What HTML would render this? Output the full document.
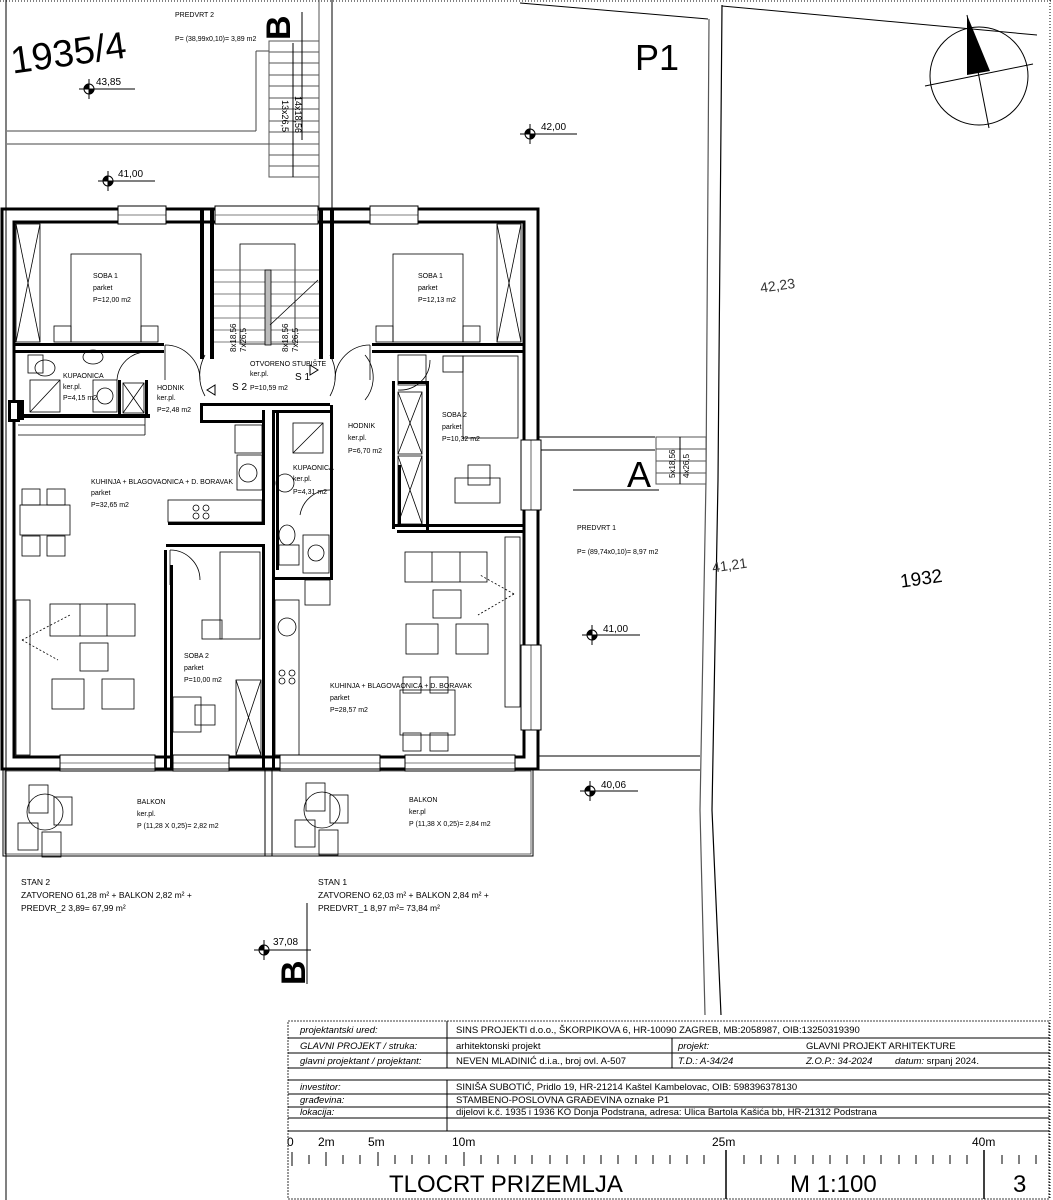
<!DOCTYPE html>
<html><head><meta charset="utf-8"><style>
html,body{margin:0;padding:0;background:#fff;}
svg{display:block;font-family:"Liberation Sans",sans-serif;}
.s{font-size:7px;}
</style></head><body>
<svg width="1053" height="1200" viewBox="0 0 1053 1200" xmlns="http://www.w3.org/2000/svg">
<line x1="0" y1="1" x2="1053" y2="1" stroke="#000" stroke-dasharray="1,2" stroke-width="1"/>
<line x1="1050" y1="0" x2="1050" y2="1200" stroke="#000" stroke-dasharray="1,2" stroke-width="1"/>
<line x1="6" y1="0" x2="6" y2="1200" stroke="#000" stroke-width="1"/>
<line x1="319" y1="0" x2="319" y2="208" stroke="#555" stroke-width="1"/>
<line x1="332" y1="0" x2="332" y2="208" stroke="#000" stroke-width="1"/>
<polyline points="520,3 708,19" fill="none" stroke="#000" stroke-width="1"/>
<polyline points="722,6 1037,35" fill="none" stroke="#000" stroke-width="1"/>
<polyline points="709,19 706,480 700,810 705,1015" fill="none" stroke="#555" stroke-width="1.2"/>
<polyline points="722,5 718,480 712,810 721,1015" fill="none" stroke="#000" stroke-width="1.2"/>
<line x1="7" y1="131" x2="256" y2="131" stroke="#444"/>
<line x1="256" y1="51" x2="256" y2="131" stroke="#444"/>
<line x1="256" y1="51" x2="269" y2="51" stroke="#444"/>
<line x1="7" y1="144" x2="308" y2="144" stroke="#444"/>
<rect x="269" y="41" width="50" height="136" fill="none" stroke="#555"/>
<g stroke="#555"><line x1="269" y1="52" x2="319" y2="52"/><line x1="269" y1="63" x2="319" y2="63"/><line x1="269" y1="75" x2="319" y2="75"/><line x1="269" y1="86" x2="319" y2="86"/><line x1="269" y1="98" x2="319" y2="98"/><line x1="269" y1="109" x2="319" y2="109"/><line x1="269" y1="121" x2="319" y2="121"/><line x1="269" y1="132" x2="319" y2="132"/><line x1="269" y1="144" x2="319" y2="144"/><line x1="269" y1="155" x2="319" y2="155"/><line x1="269" y1="166" x2="319" y2="166"/></g>
<line x1="293" y1="43" x2="293" y2="177" stroke="#000"/>
<line x1="302" y1="12" x2="302" y2="140" stroke="#000"/>
<text transform="translate(282,100) rotate(90)" font-size="9">13x26,5</text>
<text transform="translate(295,96) rotate(90)" font-size="9">14x18,56</text>
<text x="10" y="64" font-size="38" transform="rotate(-8 80 50)">1935/4</text>
<text x="175" y="17" class="s">PREDVRT 2</text>
<text x="175" y="41" class="s">P= (38,99x0,10)= 3,89 m2</text>
<text transform="translate(290,40) rotate(-90)" font-size="34" font-weight="bold">B</text>
<g stroke="#000">
<circle cx="89" cy="89" r="5" fill="#fff"/><path d="M89,89 L94,89 A5,5 0 0 1 89,94 Z M89,89 L84,89 A5,5 0 0 1 89,84Z" fill="#000"/><line x1="89" y1="79" x2="89" y2="99"/><line x1="79" y1="89" x2="135" y2="89"/>
<circle cx="108" cy="181" r="5" fill="#fff"/><path d="M108,181 L113,181 A5,5 0 0 1 108,186 Z M108,181 L103,181 A5,5 0 0 1 108,176Z" fill="#000"/><line x1="108" y1="171" x2="108" y2="191"/><line x1="98" y1="181" x2="155" y2="181"/>
<circle cx="530" cy="134" r="5" fill="#fff"/><path d="M530,134 L535,134 A5,5 0 0 1 530,139 Z M530,134 L525,134 A5,5 0 0 1 530,129Z" fill="#000"/><line x1="530" y1="124" x2="530" y2="144"/><line x1="520" y1="134" x2="577" y2="134"/>
<circle cx="592" cy="635" r="5" fill="#fff"/><path d="M592,635 L597,635 A5,5 0 0 1 592,640 Z M592,635 L587,635 A5,5 0 0 1 592,630Z" fill="#000"/><line x1="592" y1="625" x2="592" y2="645"/><line x1="582" y1="635" x2="640" y2="635"/>
<circle cx="590" cy="791" r="5" fill="#fff"/><path d="M590,791 L595,791 A5,5 0 0 1 590,796 Z M590,791 L585,791 A5,5 0 0 1 590,786Z" fill="#000"/><line x1="590" y1="781" x2="590" y2="801"/><line x1="580" y1="791" x2="638" y2="791"/>
<circle cx="264" cy="950" r="5" fill="#fff"/><path d="M264,950 L269,950 A5,5 0 0 1 264,955 Z M264,950 L259,950 A5,5 0 0 1 264,945Z" fill="#000"/><line x1="264" y1="940" x2="264" y2="960"/><line x1="254" y1="950" x2="311" y2="950"/>
</g>
<text x="96" y="85" font-size="10">43,85</text>
<text x="118" y="177" font-size="10">41,00</text>
<text x="541" y="130" font-size="10">42,00</text>
<text x="603" y="632" font-size="10">41,00</text>
<text x="601" y="788" font-size="10">40,06</text>
<text x="273" y="945" font-size="10">37,08</text>
<line x1="307" y1="903" x2="307" y2="984" stroke="#000"/>
<text transform="translate(305,985) rotate(-90)" font-size="34" font-weight="bold">B</text>
<text x="635" y="70" font-size="36">P1</text>
<text x="760" y="290" font-size="14" fill="#333" transform="rotate(-8 780 285)">42,23</text>
<text x="712" y="570" font-size="14" fill="#333" transform="rotate(-8 730 565)">41,21</text>
<text x="900" y="585" font-size="19" transform="rotate(-8 920 578)">1932</text>
<circle cx="979" cy="76" r="49" fill="none" stroke="#000"/>
<line x1="925" y1="86" x2="1033" y2="64" stroke="#000"/>
<line x1="967" y1="15" x2="989" y2="128" stroke="#000"/>
<polygon points="967,15 967,75 990,71" fill="#000"/>
<line x1="538" y1="437" x2="655" y2="437" stroke="#000"/>
<line x1="538" y1="450" x2="655" y2="450" stroke="#000"/>
<rect x="656" y="437" width="50" height="47" fill="none" stroke="#555"/>
<g stroke="#555"><line x1="656" y1="449" x2="706" y2="449"/><line x1="656" y1="461" x2="706" y2="461"/><line x1="656" y1="473" x2="706" y2="473"/></g>
<line x1="680" y1="437" x2="680" y2="484" stroke="#000"/>
<text transform="translate(675,478) rotate(-90)" font-size="8">5x18,56</text>
<text transform="translate(689,478) rotate(-90)" font-size="8">4x26,5</text>
<text x="627" y="487" font-size="36">A</text>
<line x1="573" y1="490" x2="659" y2="490" stroke="#000"/>
<text x="577" y="530" class="s">PREDVRT 1</text>
<text x="577" y="554" class="s">P= (89,74x0,10)= 8,97 m2</text>
<line x1="538" y1="756" x2="700" y2="756" stroke="#000"/>
<line x1="538" y1="770" x2="700" y2="770" stroke="#000"/>

<g fill="none" stroke="#000">
<rect x="2" y="209" width="536" height="560" stroke-width="3"/>
<rect x="14" y="222" width="510" height="535" stroke-width="3"/>
</g>
<g fill="#fff" stroke="#000" stroke-width="1">
<rect x="118" y="206" width="48" height="18"/><rect x="215" y="206" width="103" height="18"/><rect x="370" y="206" width="48" height="18"/>
<rect x="521" y="440" width="20" height="70"/><rect x="521" y="645" width="20" height="85"/>
<rect x="60" y="755" width="95" height="16"/><rect x="173" y="755" width="56" height="16"/><rect x="280" y="755" width="100" height="16"/><rect x="405" y="755" width="110" height="16"/>
</g>
<g stroke="#000" stroke-width="0.6">
<line x1="118" y1="215" x2="166" y2="215"/><line x1="215" y1="215" x2="318" y2="215"/><line x1="370" y1="215" x2="418" y2="215"/>
<line x1="531" y1="440" x2="531" y2="510"/><line x1="531" y1="645" x2="531" y2="730"/>
<line x1="60" y1="763" x2="155" y2="763"/><line x1="173" y1="763" x2="229" y2="763"/><line x1="280" y1="763" x2="380" y2="763"/><line x1="405" y1="763" x2="515" y2="763"/>
</g>
<g fill="#000">
<rect x="200" y="209" width="4" height="150"/><rect x="210" y="209" width="4" height="150"/>
<rect x="319" y="209" width="4" height="150"/><rect x="330" y="209" width="4" height="150"/>
<rect x="14" y="343" width="150" height="3"/><rect x="14" y="350" width="150" height="3"/>
<rect x="372" y="343" width="152" height="3"/><rect x="372" y="350" width="152" height="3"/>
<rect x="14" y="414" width="136" height="4"/><rect x="14" y="400" width="10" height="20"/>
<rect x="118" y="380" width="3" height="36"/><rect x="145" y="380" width="3" height="36"/>
<rect x="200" y="403" width="130" height="3"/><rect x="200" y="403" width="3" height="20"/><rect x="200" y="420" width="65" height="3"/>
<rect x="262" y="410" width="3" height="115"/><rect x="272" y="410" width="3" height="165"/><rect x="276" y="410" width="3" height="160"/>
<rect x="330" y="405" width="3" height="175"/><rect x="272" y="410" width="60" height="3"/>
<rect x="168" y="522" width="96" height="3"/><rect x="166" y="544" width="98" height="3"/>
<rect x="164" y="550" width="3" height="218"/><rect x="170" y="565" width="3" height="203"/>
<rect x="262" y="544" width="3" height="224"/><rect x="272" y="575" width="3" height="193"/>
<rect x="272" y="577" width="60" height="3"/>
<rect x="392" y="381" width="3" height="148"/><rect x="398" y="381" width="28" height="3"/><rect x="426" y="381" width="3" height="149"/>
<rect x="392" y="524" width="132" height="3"/><rect x="397" y="530" width="127" height="3"/>
<rect x="398" y="465" width="3" height="60"/>
<rect x="8" y="400" width="12" height="22"/>
</g>
<rect x="11" y="403" width="6" height="16" fill="#fff"/>
<g fill="none" stroke="#000" stroke-width="0.8">
<rect x="16" y="224" width="24" height="118"/><line x1="16" y1="224" x2="40" y2="342"/><line x1="40" y1="224" x2="16" y2="342"/>
<rect x="497" y="224" width="24" height="118"/><line x1="497" y1="224" x2="521" y2="342"/><line x1="521" y1="224" x2="497" y2="342"/>
<rect x="71" y="254" width="70" height="88"/><rect x="54" y="326" width="17" height="16"/><rect x="141" y="326" width="17" height="16"/>
<rect x="393" y="254" width="70" height="88"/><rect x="376" y="326" width="17" height="16"/><rect x="463" y="326" width="17" height="16"/>
<path d="M165,345 A35,35 0 0 1 200,380"/><line x1="165" y1="345" x2="165" y2="380"/>
<path d="M370,345 A35,35 0 0 0 335,380"/><line x1="370" y1="345" x2="370" y2="380"/>
<rect x="240" y="244" width="55" height="100"/>
<g stroke="#555"><line x1="214" y1="270" x2="319" y2="270"/><line x1="214" y1="282" x2="319" y2="282"/><line x1="214" y1="294" x2="319" y2="294"/><line x1="214" y1="306" x2="319" y2="306"/><line x1="214" y1="318" x2="319" y2="318"/><line x1="214" y1="330" x2="319" y2="330"/><line x1="214" y1="342" x2="319" y2="342"/></g>
<rect x="265" y="270" width="6" height="75" fill="#bbb"/>
<line x1="270" y1="325" x2="318" y2="280"/>
<path d="M205,355 A42,42 0 0 0 205,396"/><path d="M330,355 A42,42 0 0 1 330,396"/>
<path d="M365,355 A35,35 0 0 1 365,400"/>
<rect x="28" y="355" width="15" height="18"/><ellipse cx="45" cy="368" rx="10" ry="8"/><ellipse cx="93" cy="357" rx="10" ry="7"/>
<rect x="30" y="380" width="30" height="32"/><line x1="30" y1="412" x2="60" y2="380"/>
<rect x="93" y="380" width="24" height="32"/><circle cx="105" cy="396" r="8"/>
<rect x="123" y="383" width="21" height="30"/><line x1="123" y1="383" x2="144" y2="413"/><line x1="144" y1="383" x2="123" y2="413"/>
<path d="M145,352 A30,30 0 0 0 117,380"/>
<line x1="18" y1="425" x2="145" y2="425"/><line x1="145" y1="418" x2="145" y2="435"/><line x1="18" y1="435" x2="145" y2="435"/>
<rect x="235" y="425" width="27" height="28"/><rect x="237" y="455" width="25" height="35"/><circle cx="248" cy="473" r="9"/>
<rect x="168" y="500" width="94" height="22"/><circle cx="196" cy="508" r="3"/><circle cx="206" cy="508" r="3"/><circle cx="196" cy="516" r="3"/><circle cx="206" cy="516" r="3"/>
<rect x="20" y="505" width="50" height="30"/><rect x="22" y="489" width="18" height="16"/><rect x="47" y="489" width="18" height="16"/><rect x="22" y="536" width="18" height="20"/><rect x="47" y="536" width="18" height="20"/>
<rect x="16" y="600" width="14" height="155"/>
<rect x="50" y="604" width="85" height="32"/><line x1="80" y1="604" x2="80" y2="636"/><line x1="107" y1="604" x2="107" y2="636"/>
<rect x="80" y="643" width="28" height="28"/><rect x="52" y="679" width="32" height="30"/><rect x="102" y="679" width="32" height="30"/>
<line x1="22" y1="640" x2="70" y2="615" stroke-dasharray="2,2"/><line x1="22" y1="640" x2="58" y2="660" stroke-dasharray="2,2"/>
<path d="M170,550 A30,30 0 0 1 200,580"/><line x1="170" y1="550" x2="170" y2="585"/>
<rect x="220" y="552" width="40" height="87"/><rect x="202" y="620" width="20" height="19"/>
<rect x="236" y="680" width="25" height="75"/><line x1="236" y1="680" x2="261" y2="755"/><line x1="261" y1="680" x2="236" y2="755"/>
<rect x="173" y="697" width="28" height="35"/><rect x="195" y="705" width="20" height="20"/>
<rect x="293" y="423" width="30" height="30"/><line x1="293" y1="453" x2="323" y2="423"/>
<circle cx="285" cy="483" r="9"/><path d="M330,490 A30,30 0 0 0 300,515"/>
<ellipse cx="287" cy="535" rx="8" ry="10"/><rect x="279" y="545" width="20" height="20"/><rect x="303" y="535" width="26" height="38"/><circle cx="316" cy="553" r="8"/>
<rect x="305" y="580" width="25" height="25"/>
<rect x="275" y="600" width="24" height="155"/><circle cx="287" cy="627" r="9"/><circle cx="282" cy="673" r="3"/><circle cx="292" cy="673" r="3"/><circle cx="282" cy="681" r="3"/><circle cx="292" cy="681" r="3"/>
<rect x="398" y="355" width="28" height="30"/><path d="M398,390 A30,30 0 0 0 430,360"/>
<rect x="398" y="392" width="24" height="62"/><line x1="398" y1="392" x2="422" y2="454"/><line x1="422" y1="392" x2="398" y2="454"/>
<rect x="398" y="456" width="24" height="68"/><line x1="398" y1="456" x2="422" y2="524"/><line x1="422" y1="456" x2="398" y2="524"/>
<rect x="463" y="356" width="55" height="82"/><rect x="443" y="356" width="20" height="16"/>
<rect x="455" y="478" width="45" height="25"/><rect x="468" y="465" width="22" height="20"/>
<rect x="405" y="552" width="82" height="30"/><line x1="432" y1="552" x2="432" y2="582"/><line x1="460" y1="552" x2="460" y2="582"/>
<rect x="505" y="537" width="15" height="170"/><rect x="433" y="590" width="28" height="28"/><rect x="406" y="624" width="32" height="30"/><rect x="456" y="624" width="32" height="30"/>
<line x1="514" y1="594" x2="480" y2="575" stroke-dasharray="2,2"/><line x1="514" y1="594" x2="478" y2="615" stroke-dasharray="2,2"/>
<rect x="400" y="690" width="55" height="45"/><rect x="403" y="677" width="18" height="16"/><rect x="430" y="677" width="18" height="16"/><rect x="403" y="733" width="18" height="18"/><rect x="430" y="733" width="18" height="18"/>
</g>
<g class="s">
<text x="93" y="278">SOBA 1</text><text x="93" y="290">parket</text><text x="93" y="302">P=12,00 m2</text>
<text x="418" y="278">SOBA 1</text><text x="418" y="290">parket</text><text x="418" y="302">P=12,13 m2</text>
<text x="63" y="378">KUPAONICA</text><text x="63" y="389">ker.pl.</text><text x="63" y="400">P=4,15 m2</text>
<text x="157" y="390">HODNIK</text><text x="157" y="400">ker.pl.</text><text x="157" y="412">P=2,48 m2</text>
<text x="250" y="366">OTVORENO STUBIŠTE</text><text x="250" y="376">ker.pl.</text>
<text x="232" y="390" font-size="10">S 2</text><text x="250" y="390">P=10,59 m2</text><text x="295" y="380" font-size="10">S 1</text>
<text x="348" y="428">HODNIK</text><text x="348" y="440">ker.pl.</text><text x="348" y="453">P=6,70 m2</text>
<text x="442" y="417">SOBA 2</text><text x="442" y="429">parket</text><text x="442" y="441">P=10,32 m2</text>
<text x="293" y="470">KUPAONICA</text><text x="293" y="481">ker.pl.</text><text x="293" y="494">P=4,31 m2</text>
<text x="91" y="484">KUHINJA + BLAGOVAONICA + D. BORAVAK</text><text x="91" y="495">parket</text><text x="91" y="507">P=32,65 m2</text>
<text x="184" y="658">SOBA 2</text><text x="184" y="670">parket</text><text x="184" y="682">P=10,00 m2</text>
<text x="330" y="688">KUHINJA + BLAGOVAONICA + D. BORAVAK</text><text x="330" y="700">parket</text><text x="330" y="712">P=28,57 m2</text>
</g>
<polygon points="207,390 215,385 215,395" fill="none" stroke="#000"/>
<polygon points="318,370 310,365 310,375" fill="none" stroke="#000"/>
<text transform="translate(236,352) rotate(-90)" font-size="8">8x18,56</text>
<text transform="translate(246,352) rotate(-90)" font-size="8">7x26,5</text>
<text transform="translate(288,352) rotate(-90)" font-size="8">8x18,56</text>
<text transform="translate(298,352) rotate(-90)" font-size="8">7x26,5</text>
<rect x="3" y="769" width="530" height="87" fill="none" stroke="#000"/>
<rect x="5" y="771" width="526" height="83" fill="none" stroke="#000" stroke-width="0.6"/>
<line x1="265" y1="769" x2="265" y2="856" stroke="#000"/><line x1="272" y1="769" x2="272" y2="856" stroke="#000"/>
<g fill="none" stroke="#000" stroke-width="0.8">
<circle cx="45" cy="812" r="18"/><rect x="29" y="785" width="19" height="28"/><rect x="54" y="797" width="18" height="28"/><rect x="18" y="823" width="20" height="27"/><rect x="42" y="832" width="19" height="25"/>
<circle cx="322" cy="810" r="18"/><rect x="306" y="783" width="19" height="28"/><rect x="330" y="795" width="18" height="28"/><rect x="295" y="820" width="20" height="27"/><rect x="319" y="830" width="19" height="25"/>
</g>
<g class="s">
<text x="137" y="804">BALKON</text><text x="137" y="816">ker.pl.</text><text x="137" y="828">P (11,28 X 0,25)= 2,82 m2</text>
<text x="409" y="802">BALKON</text><text x="409" y="814">ker.pl</text><text x="409" y="826">P (11,38 X 0,25)= 2,84 m2</text>
</g>
<g font-size="8.5">
<text x="21" y="885">STAN 2</text><text x="21" y="898">ZATVORENO 61,28 m² + BALKON 2,82 m² +</text><text x="21" y="911">PREDVR_2  3,89=  67,99 m²</text>
<text x="318" y="885">STAN 1</text><text x="318" y="898">ZATVORENO 62,03 m² + BALKON 2,84 m² +</text><text x="318" y="911">PREDVRT_1  8,97 m²=  73,84 m²</text>
</g>
<g fill="none" stroke="#000">
<rect x="288" y="1021" width="761" height="178" stroke-dasharray="2,1" stroke-width="0.8"/>
<line x1="288" y1="1038" x2="1049" y2="1038"/><line x1="288" y1="1053" x2="1049" y2="1053"/><line x1="288" y1="1068" x2="1049" y2="1068"/>
<line x1="288" y1="1080" x2="1049" y2="1080"/><line x1="288" y1="1094" x2="1049" y2="1094"/><line x1="288" y1="1107" x2="1049" y2="1107"/>
<line x1="288" y1="1118" x2="1049" y2="1118"/><line x1="288" y1="1131" x2="1049" y2="1131"/>
<line x1="447" y1="1021" x2="447" y2="1068"/><line x1="447" y1="1080" x2="447" y2="1131"/>
<line x1="672" y1="1038" x2="672" y2="1068"/>
<line x1="726" y1="1150" x2="726" y2="1199" stroke-width="1.5"/><line x1="984" y1="1150" x2="984" y2="1199" stroke-width="1.5"/>
</g>
<g font-size="9.5">
<text x="300" y="1033" font-style="italic">projektantski ured:</text><text x="456" y="1033">SINS PROJEKTI d.o.o., ŠKORPIKOVA 6, HR-10090 ZAGREB, MB:2058987, OIB:13250319390</text>
<text x="300" y="1049" font-style="italic">GLAVNI PROJEKT / struka:</text><text x="456" y="1049">arhitektonski projekt</text><text x="678" y="1049" font-style="italic">projekt:</text><text x="806" y="1049">GLAVNI PROJEKT ARHITEKTURE</text>
<text x="300" y="1064" font-style="italic">glavni projektant / projektant:</text><text x="456" y="1064">NEVEN MLADINIĆ d.i.a., broj ovl. A-507</text><text x="678" y="1064" font-style="italic">T.D.: A-34/24</text><text x="806" y="1064" font-style="italic">Z.O.P.: 34-2024</text><text x="895" y="1064"><tspan font-style="italic">datum:</tspan> srpanj 2024.</text>
<text x="300" y="1090" font-style="italic">investitor:</text><text x="456" y="1090">SINIŠA SUBOTIĆ, Pridlo 19, HR-21214 Kaštel Kambelovac, OIB: 598396378130</text>
<text x="300" y="1103" font-style="italic">građevina:</text><text x="456" y="1103">STAMBENO-POSLOVNA GRAĐEVINA  oznake P1</text>
<text x="300" y="1115" font-style="italic">lokacija:</text><text x="456" y="1115">dijelovi k.č. 1935 i 1936 KO Donja Podstrana, adresa:  Ulica Bartola Kašića bb, HR-21312 Podstrana</text>
</g>
<g font-size="12"><text x="287" y="1146">0</text><text x="318" y="1146">2m</text><text x="368" y="1146">5m</text><text x="452" y="1146">10m</text><text x="712" y="1146">25m</text><text x="972" y="1146">40m</text></g>
<g stroke="#000">
<line x1="292" y1="1152" x2="292" y2="1166"/><line x1="309" y1="1155" x2="309" y2="1164"/><line x1="326" y1="1152" x2="326" y2="1166"/><line x1="343" y1="1155" x2="343" y2="1164"/><line x1="360" y1="1155" x2="360" y2="1164"/><line x1="378" y1="1152" x2="378" y2="1166"/><line x1="395" y1="1155" x2="395" y2="1164"/><line x1="412" y1="1155" x2="412" y2="1164"/><line x1="429" y1="1155" x2="429" y2="1164"/><line x1="446" y1="1155" x2="446" y2="1164"/><line x1="464" y1="1152" x2="464" y2="1166"/><line x1="481" y1="1155" x2="481" y2="1164"/><line x1="498" y1="1155" x2="498" y2="1164"/><line x1="515" y1="1155" x2="515" y2="1164"/><line x1="532" y1="1155" x2="532" y2="1164"/><line x1="550" y1="1155" x2="550" y2="1164"/><line x1="567" y1="1155" x2="567" y2="1164"/><line x1="584" y1="1155" x2="584" y2="1164"/><line x1="601" y1="1155" x2="601" y2="1164"/><line x1="618" y1="1155" x2="618" y2="1164"/><line x1="636" y1="1155" x2="636" y2="1164"/><line x1="653" y1="1155" x2="653" y2="1164"/><line x1="670" y1="1155" x2="670" y2="1164"/><line x1="687" y1="1155" x2="687" y2="1164"/><line x1="704" y1="1155" x2="704" y2="1164"/><line x1="744" y1="1155" x2="744" y2="1164"/><line x1="761" y1="1155" x2="761" y2="1164"/><line x1="778" y1="1155" x2="778" y2="1164"/><line x1="795" y1="1155" x2="795" y2="1164"/><line x1="813" y1="1155" x2="813" y2="1164"/><line x1="830" y1="1155" x2="830" y2="1164"/><line x1="847" y1="1155" x2="847" y2="1164"/><line x1="864" y1="1155" x2="864" y2="1164"/><line x1="881" y1="1155" x2="881" y2="1164"/><line x1="899" y1="1155" x2="899" y2="1164"/><line x1="916" y1="1155" x2="916" y2="1164"/><line x1="933" y1="1155" x2="933" y2="1164"/><line x1="950" y1="1155" x2="950" y2="1164"/><line x1="967" y1="1155" x2="967" y2="1164"/><line x1="1002" y1="1155" x2="1002" y2="1164"/><line x1="1019" y1="1155" x2="1019" y2="1164"/><line x1="1036" y1="1155" x2="1036" y2="1164"/>
</g>
<text x="389" y="1192" font-size="24">TLOCRT PRIZEMLJA</text>
<text x="790" y="1192" font-size="24">M 1:100</text>
<text x="1013" y="1192" font-size="24">3</text>
</svg>
</body></html>
